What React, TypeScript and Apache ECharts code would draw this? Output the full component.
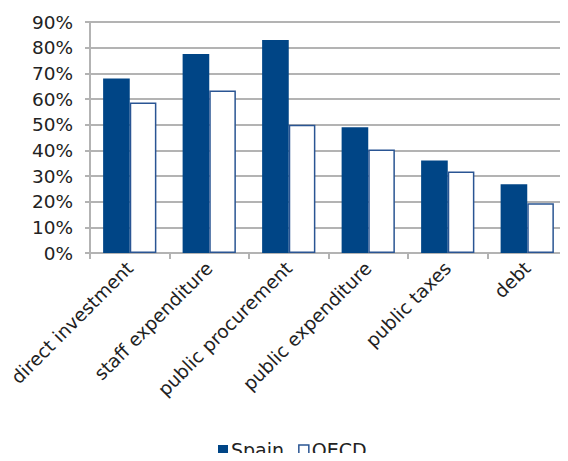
import React, { useEffect, useRef } from "react";
import * as echarts from "echarts";

const categories = [
  "direct investment",
  "staff expenditure",
  "public procurement",
  "public expenditure",
  "public taxes",
  "debt",
];
const spain = [68, 77.5, 83, 49, 36, 26.8];
const oecd = [58.6, 63.3, 50, 40.3, 31.8, 19.4];
const yTicks = [0, 10, 20, 30, 40, 50, 60, 70, 80, 90];

export default function App() {
  const ref = useRef<HTMLDivElement>(null);
  useEffect(() => {
    if (!ref.current) return;
    const chart = echarts.init(ref.current, null, { renderer: "svg" });
    const font = "DejaVu Sans";
    chart.setOption({
      animation: false,
      textStyle: { fontFamily: font },
      grid: { left: 90, right: 1, top: 22, bottom: 208, containLabel: false },
      legend: {
        bottom: 0,
        left: 218,
        padding: 0,
        itemWidth: 10,
        itemHeight: 10,
        itemGap: 14,
        icon: "rect",
        textStyle: { fontSize: 19, lineHeight: 22, color: "#222", fontFamily: font, padding: [0, 0, 0, -2] },
        data: [
          { name: "Spain", itemStyle: { color: "#004586", borderWidth: 0 } },
          { name: "OECD", itemStyle: { color: "#fff", borderColor: "#2a5593", borderWidth: 1.5 } },
        ],
      },
      xAxis: {
        type: "category",
        data: categories,
        axisLine: { lineStyle: { color: "#b3b3b3", width: 2 } },
        axisTick: { show: true, length: 6, lineStyle: { color: "#b3b3b3", width: 2 } },
        axisLabel: { rotate: 45, fontSize: 18.5, color: "#222", margin: 12, interval: 0 },
      },
      yAxis: {
        type: "value",
        min: 0,
        max: 90,
        interval: 10,
        axisLine: { show: true, lineStyle: { color: "#b3b3b3", width: 2 } },
        axisTick: { show: true, length: 5, lineStyle: { color: "#b3b3b3", width: 2 } },
        splitLine: { lineStyle: { color: "#b3b3b3", width: 2 } },
        axisLabel: {
          fontSize: 18.5,
          color: "#222",
          margin: 17,
          formatter: (v: number) => (yTicks.includes(v) ? v + "%" : ""),
        },
      },
      series: [
        {
          name: "Spain",
          type: "bar",
          data: spain,
          barGap: "0%",
          barCategoryGap: "33%",
          itemStyle: { color: "#004586" },
        },
        {
          name: "OECD",
          type: "bar",
          data: oecd,
          itemStyle: { color: "#fff", borderColor: "#2a5593", borderWidth: 1.5 },
        },
      ],
    });
    return () => chart.dispose();
  }, []);
  return <div ref={ref} style={{ width: 568, height: 461, margin: -8 }} />;
}
